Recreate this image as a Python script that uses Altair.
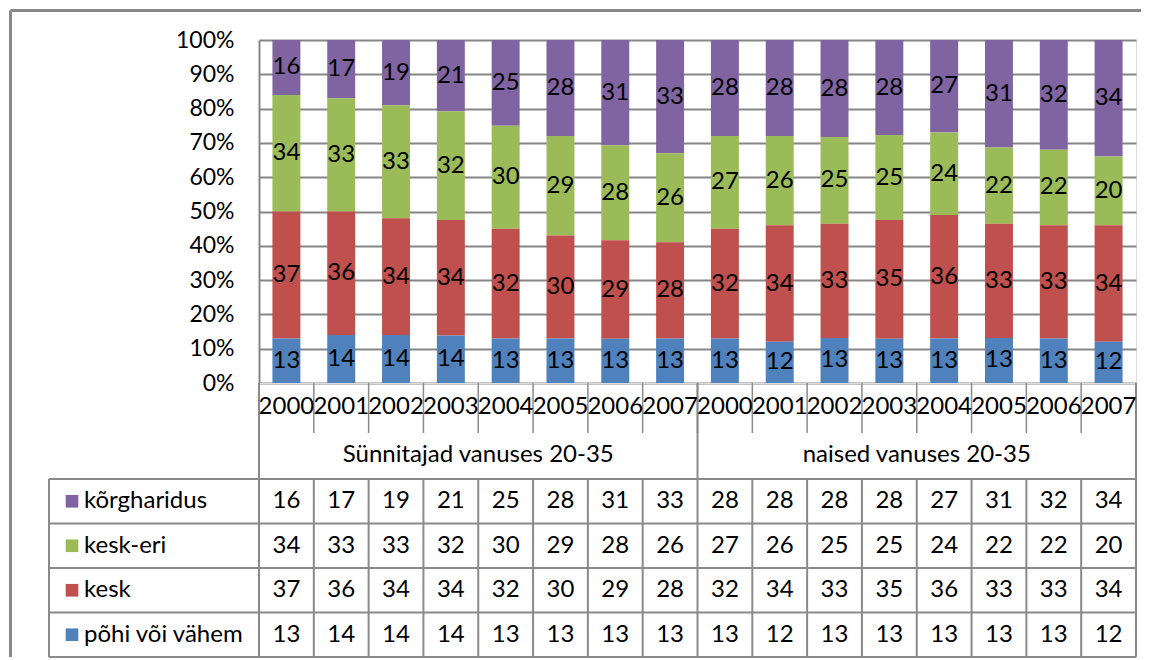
import altair as alt
import pandas as pd

# ---------------- data ----------------
years = ["2000", "2001", "2002", "2003", "2004", "2005", "2006", "2007"]
groups = ["Sünnitajad vanuses 20-35", "naised vanuses 20-35"]
levels_table = ["kõrgharidus", "kesk-eri", "kesk", "põhi või vähem"]   # table order (top to bottom)
stack_order = ["põhi või vähem", "kesk", "kesk-eri", "kõrgharidus"]    # bar order (bottom to top)
level_colors = ["#8064A2", "#9BBB59", "#C0504D", "#4F81BD"]             # same order as levels_table

korgharidus = [16, 17, 19, 21, 25, 28, 31, 33, 28, 28, 28, 28, 27, 31, 32, 34]
kesk_eri = [34, 33, 33, 32, 30, 29, 28, 26, 27, 26, 25, 25, 24, 22, 22, 20]
kesk = [37, 36, 34, 34, 32, 30, 29, 28, 32, 34, 33, 35, 36, 33, 33, 34]
pohi = [13, 14, 14, 14, 13, 13, 13, 13, 13, 12, 13, 13, 13, 13, 13, 12]

y_ticks = [0, 0.1, 0.2, 0.3, 0.4, 0.5, 0.6, 0.7, 0.8, 0.9, 1.0]

# ---------------- tables built from the arrays ----------------
keys = [f"{gi}-{y}" for gi in range(len(groups)) for y in years]
series = {"kõrgharidus": korgharidus, "kesk-eri": kesk_eri, "kesk": kesk, "põhi või vähem": pohi}
rows = []
for lvl, vals in series.items():
    for i, k in enumerate(keys):
        rows.append({"key": k, "year": years[i % 8], "level": lvl,
                     "value": vals[i], "order": stack_order.index(lvl)})
df = pd.DataFrame(rows)
year_df = pd.DataFrame({"key": keys, "year": [years[i % 8] for i in range(len(keys))], "row": "year"})
group_df = pd.DataFrame({"key": [keys[g * 8 + 4] for g in range(len(groups))], "label": groups, "row": "group"})
group_edge_df = pd.DataFrame({"key": [keys[g * 8] for g in range(len(groups))]})
key_df = pd.DataFrame({"key": keys})
legend_df = pd.DataFrame({"level": levels_table})
one = pd.DataFrame({"k": [0]})

# ---------------- styling ----------------
FONT = "Lato"
FS = 24
AXIS_FS = 23
LINE = "#8a8a8a"
W = 877
H_TOP = 343
H_HDR = 96
H_TAB = 178

xscale = alt.Scale(type="band", domain=keys, paddingInner=0, paddingOuter=0)
cscale = alt.Scale(domain=levels_table, range=level_colors)


def y_axis():
    return alt.Axis(format=".0%", values=y_ticks, grid=True, gridColor="#868686",
                    gridWidth=2, domainColor="#868686", domainWidth=2,
                    ticks=False, labelFont=FONT, labelFontSize=AXIS_FS,
                    labelOverlap=False, labelColor="black", labelPadding=25, title=None)


# ---------------- top: stacked 100% bars ----------------
stacked = alt.Chart(df).transform_stack(
    stack="value", as_=["y0", "y1"], groupby=["key"],
    sort=[alt.SortField("order", "ascending")], offset="normalize"
).transform_calculate(mid="(datum.y0 + datum.y1) / 2")

yscale = alt.Scale(domain=[0, 1], nice=False)

bars = stacked.mark_bar(width=alt.RelativeBandSize(0.51)).encode(
    x=alt.X("key:N", scale=xscale, axis=None),
    y=alt.Y("y0:Q", scale=yscale, title=None, axis=y_axis()),
    y2="y1:Q",
    color=alt.Color("level:N", scale=cscale, legend=None),
)
bar_text = stacked.mark_text(font=FONT, fontSize=FS, color="black").encode(
    x=alt.X("key:N", scale=xscale, axis=None),
    y=alt.Y("mid:Q", scale=yscale, title=None, axis=y_axis()),
    text="value:Q",
)
frame_top = alt.Chart(one).mark_rule(color="#888888", strokeWidth=3).encode(
    x=alt.value(-248.5), x2=alt.value(882), y=alt.value(-29.5))
frame_left = alt.Chart(one).mark_rule(color="#888888", strokeWidth=3).encode(
    x=alt.value(-248.5), y=alt.value(-29.5), y2=alt.value(H_TOP + H_HDR + H_TAB))

top = alt.layer(bars, bar_text, frame_top, frame_left).properties(width=W, height=H_TOP)

# ---------------- header: years + group names ----------------
hdr_y = alt.Scale(type="band", domain=["year", "group"], paddingInner=0, paddingOuter=0)
year_text = alt.Chart(year_df).mark_text(font=FONT, fontSize=FS, color="black").encode(
    x=alt.X("key:N", scale=xscale, axis=None),
    y=alt.Y("row:N", scale=hdr_y, axis=None),
    text="year:N",
)
group_text = alt.Chart(group_df).mark_text(font=FONT, fontSize=FS, color="black").encode(
    x=alt.X("key:N", scale=xscale, axis=None, bandPosition=0),
    y=alt.Y("row:N", scale=hdr_y, axis=None),
    text="label:N",
)
year_ticks = alt.Chart(key_df).mark_rule(color=LINE, strokeWidth=1.5).encode(
    x=alt.X("key:N", scale=xscale, axis=None, bandPosition=0),
    y=alt.value(0), y2=alt.value(50),
)
group_lines = alt.Chart(group_edge_df).mark_rule(color=LINE, strokeWidth=2).encode(
    x=alt.X("key:N", scale=xscale, axis=None, bandPosition=0),
    y=alt.value(0), y2=alt.value(H_HDR),
)
hdr_right = alt.Chart(one).mark_rule(color=LINE, strokeWidth=2).encode(
    x=alt.value(W), y=alt.value(0), y2=alt.value(H_HDR))

header = alt.layer(year_ticks, group_lines, hdr_right, year_text, group_text).properties(
    width=W, height=H_HDR)

# ---------------- data table ----------------
tab_y = alt.Scale(type="band", domain=levels_table, paddingInner=0, paddingOuter=0)
tab_text = alt.Chart(df).mark_text(font=FONT, fontSize=FS, color="black").encode(
    x=alt.X("key:N", scale=xscale, axis=None),
    y=alt.Y("level:N", scale=tab_y, axis=None),
    text="value:Q",
)
leg_sq = alt.Chart(legend_df).mark_point(shape="square", filled=True, size=160, opacity=1).encode(
    x=alt.value(-187),
    y=alt.Y("level:N", scale=tab_y, axis=None),
    color=alt.Color("level:N", scale=cscale, legend=None),
)
leg_txt = alt.Chart(legend_df).mark_text(font=FONT, fontSize=FS, color="black", align="left").encode(
    x=alt.value(-175),
    y=alt.Y("level:N", scale=tab_y, axis=None),
    text="level:N",
)
h_lines = alt.Chart(legend_df).mark_rule(color=LINE, strokeWidth=2).encode(
    x=alt.value(-210), x2=alt.value(W),
    y=alt.Y("level:N", scale=tab_y, axis=None, bandPosition=0),
)
h_bottom = alt.Chart(one).mark_rule(color=LINE, strokeWidth=2).encode(
    x=alt.value(-210), x2=alt.value(W), y=alt.value(H_TAB))
v_lines = alt.Chart(key_df).mark_rule(color=LINE, strokeWidth=2).encode(
    x=alt.X("key:N", scale=xscale, axis=None, bandPosition=0),
    y=alt.value(0), y2=alt.value(H_TAB),
)
v_right = alt.Chart(one).mark_rule(color=LINE, strokeWidth=2).encode(
    x=alt.value(W), y=alt.value(0), y2=alt.value(H_TAB))
v_left = alt.Chart(one).mark_rule(color=LINE, strokeWidth=2).encode(
    x=alt.value(-210), y=alt.value(0), y2=alt.value(H_TAB))

table = alt.layer(h_lines, h_bottom, v_lines, v_right, v_left, leg_sq, leg_txt, tab_text).properties(
    width=W, height=H_TAB)

chart = alt.VConcatChart(
    vconcat=[top, header, table], spacing=0, bounds="flush", padding=0,
).configure_view(stroke=None).configure(background="white")

chart.save("out.html", embed_options={"renderer": "svg", "actions": False})
